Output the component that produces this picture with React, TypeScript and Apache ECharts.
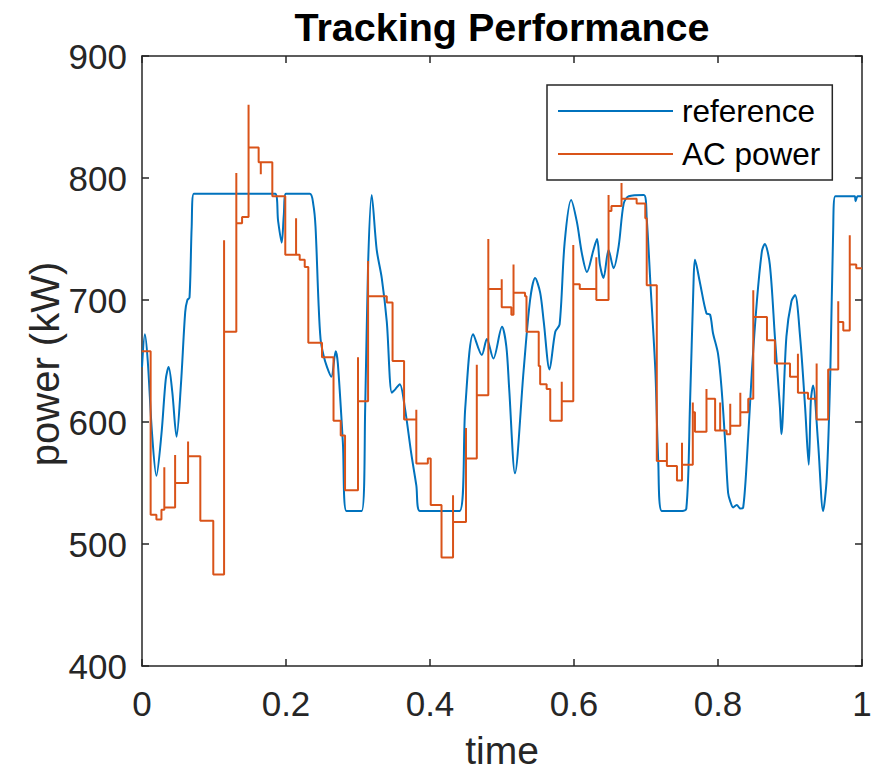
import React, { useEffect, useRef } from "react";
import * as echarts from "echarts";

// reference power (kW) sampled over normalized time
const refT = [0.000,0.004,0.008,0.014,0.020,0.027,0.033,0.037,0.042,0.048,0.054,0.060,0.063,0.066,0.069,0.072,0.185,0.189,0.194,0.197,0.200,0.233,0.238,0.241,0.245,0.248,0.252,0.257,0.263,0.269,0.272,0.279,0.284,0.305,0.310,0.314,0.319,0.326,0.333,0.340,0.347,0.352,0.358,0.365,0.374,0.381,0.386,0.441,0.449,0.460,0.472,0.479,0.488,0.500,0.506,0.510,0.518,0.530,0.539,0.546,0.553,0.558,0.566,0.574,0.580,0.587,0.596,0.604,0.611,0.618,0.627,0.632,0.636,0.641,0.648,0.655,0.662,0.669,0.676,0.697,0.701,0.706,0.713,0.717,0.722,0.747,0.756,0.761,0.766,0.768,0.775,0.784,0.789,0.793,0.800,0.805,0.810,0.814,0.817,0.821,0.826,0.831,0.835,0.840,0.847,0.854,0.861,0.865,0.872,0.879,0.886,0.888,0.895,0.902,0.907,0.914,0.921,0.926,0.929,0.932,0.939,0.946,0.951,0.956,0.960,0.963,0.990,0.991,0.994,1.000];
const refV = [645,672,650,590,556,590,635,645,625,588,630,690,700,702,760,787,787,765,747,770,787,787,778,760,700,668,655,645,637,658,648,583,527,527,612,729,786,741,718,682,624,627,631,612,574,548,527,527,612,672,655,668,652,678,662,627,558,642,700,718,706,682,643,674,680,747,782,764,738,723,741,750,729,718,741,726,744,779,785,786,767,715,642,568,527,527,529,612,714,733,714,689,688,673,656,627,583,542,535,530,532,529,530,568,641,699,740,746,729,670,612,590,670,699,704,670,612,565,618,630,583,527,554,641,758,785,785,781,785,785];

// AC power: step levels (start time, level) and the transient spike at each step start
const acT = [0.000,0.012,0.020,0.027,0.031,0.046,0.064,0.081,0.099,0.114,0.131,0.139,0.148,0.162,0.165,0.181,0.199,0.214,0.219,0.226,0.231,0.250,0.266,0.276,0.282,0.300,0.314,0.340,0.348,0.364,0.381,0.397,0.401,0.416,0.432,0.450,0.465,0.481,0.4996,0.513,0.516,0.532,0.534,0.551,0.553,0.562,0.567,0.583,0.599,0.608,0.631,0.648,0.652,0.666,0.687,0.699,0.701,0.715,0.729,0.743,0.750,0.765,0.768,0.784,0.796,0.803,0.812,0.817,0.831,0.842,0.849,0.868,0.879,0.900,0.911,0.925,0.937,0.953,0.967,0.974,0.983,0.992];
const acV = [658,524,520,528,530,550,572,519,475,674,763,768,825,813,813,785,737,737,733,727,665,653,601,589,544,617,703,698,650,602,566,570,532,489,518,570,622,709,694,688,706,703,674,646,631,627,601,617,713,709,700,773,777,783,779,767,712,568,564,552,565,608,592,619,593,593,590,597,608,619,686,667,648,637,624,619,602,643,682,675,729,726];
const acSpike = [null,null,null,null,563,573,584,null,null,749,804,null,860,null,803,null,null,767,null,null,null,null,null,null,null,653,732,null,null,null,610,null,null,null,540,595,647,750,717,null,729,null,null,null,null,null,null,633,745,null,735,786,null,796,null,null,null,null,583,null,583,616,null,627,null,616,null,615,624,null,708,null,null,null,656,null,648,null,699,null,753,null];

const xTicks = { min: 0, max: 1, interval: 0.2 };
const yTicks = { min: 400, max: 900, interval: 100 };

const FONT = "'Liberation Sans', Arial, Helvetica, sans-serif";
const AXIS = "#262626";

export default function App() {
  const ref = useRef<HTMLDivElement>(null);
  useEffect(() => {
    if (!ref.current) return;
    const chart = echarts.init(ref.current, undefined, { renderer: "svg" });

    const refData = refT.map((t, i) => [t, refV[i]]);
    const acData: number[][] = [];
    for (let i = 0; i < acT.length; i++) {
      const t = acT[i];
      if (i > 0) acData.push([t, acV[i - 1]]);
      const s = acSpike[i];
      if (s !== null) {
        acData.push([t, s]);
      }
      acData.push([t, acV[i]]);
    }
    acData.push([1, acV[acV.length - 1]]);

    const axisCommon = {
      axisLine: { show: true, onZero: false, lineStyle: { color: AXIS, width: 1.5 } },
      axisTick: { show: true, inside: true, length: 7, lineStyle: { color: AXIS, width: 1.5 } },
      splitLine: { show: false },
    };

    chart.setOption({
      animation: false,
      backgroundColor: "#ffffff",
      grid: { left: 142, right: 16, top: 56, bottom: 109, containLabel: false },
      xAxis: [
        {
          type: "value", position: "bottom", ...xTicks, ...axisCommon,
          axisLabel: { fontSize: 35, color: AXIS, fontFamily: FONT, margin: 20 },
        },
        {
          type: "value", position: "top", ...xTicks, ...axisCommon,
          axisLabel: { show: false },
        },
      ],
      yAxis: [
        {
          type: "value", position: "left", ...yTicks, ...axisCommon,
          axisLabel: { fontSize: 35, color: AXIS, fontFamily: FONT, margin: 15 },
        },
        {
          type: "value", position: "right", ...yTicks, ...axisCommon,
          axisLabel: { show: false },
        },
      ],
      legend: {
        orient: "vertical",
        left: 547,
        top: 85,
        padding: [10, 12, 10, 11],
        itemWidth: 115,
        itemHeight: 2,
        itemGap: 11,
        backgroundColor: "#ffffff",
        borderColor: AXIS,
        borderWidth: 1.5,
        textStyle: { fontSize: 31.5, color: "#000", fontFamily: FONT, padding: [0, 0, 0, 4] },
        data: [
          { name: "reference", icon: "rect" },
          { name: "AC power", icon: "rect" },
        ],
      },
      graphic: [
        {
          type: "text", x: 502, y: 27,
          style: { text: "Tracking Performance", fontSize: 39.5, fontWeight: "bold", fontFamily: FONT, fill: "#000", align: "center", verticalAlign: "middle" },
        },
        {
          type: "text", x: 502, y: 750,
          style: { text: "time", fontSize: 39, fontFamily: FONT, fill: AXIS, align: "center", verticalAlign: "middle" },
        },
        {
          type: "text", x: 45, y: 364, rotation: Math.PI / 2,
          style: { text: "power (kW)", fontSize: 40, fontFamily: FONT, fill: AXIS, align: "center", verticalAlign: "middle" },
        },
      ],
      series: [
        {
          name: "reference", type: "line", data: refData, symbol: "none", smooth: 0.3,
          lineStyle: { color: "#0072BD", width: 2 }, itemStyle: { color: "#0072BD" }, z: 2,
        },
        {
          name: "AC power", type: "line", data: acData, symbol: "none",
          lineStyle: { color: "#D95319", width: 2 }, itemStyle: { color: "#D95319" }, z: 3,
        },
      ],
    });
    return () => chart.dispose();
  }, []);
  return <div ref={ref} style={{ position: "fixed", left: 0, top: 0, width: 878, height: 775 }} />;
}
